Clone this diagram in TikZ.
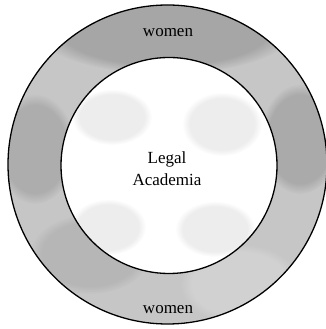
\documentclass[tikz,border=0pt]{standalone}
\usepackage{fontspec}
\setmainfont{Liberation Serif}
\usetikzlibrary{fadings}
\begin{document}
\begin{tikzpicture}[x=1pt,y=1pt,
  ringline/.style={draw=black,line width=1.3pt},
  lbl/.style={font=\fontsize{17}{22}\selectfont,text=black,inner sep=0pt},
  soft/.style={path fading=circle with fuzzy edge 20 percent},
  patch/.style={fill=black,fill opacity=0.07,soft}]
\useasboundingbox (0,0) rectangle (325,329);
% outer ring fill
\fill[gray!45] (167.5,164.5) circle[radius=159.5];
\begin{scope}
  \clip (167.5,164.5) circle[radius=159.5];
  \fill[black,fill opacity=0.16,soft] (165,300) ellipse[x radius=130,y radius=45];
  \fill[black,fill opacity=0.12,soft] (35,180) ellipse[x radius=40,y radius=55];
  \fill[black,fill opacity=0.14,soft] (300,190) ellipse[x radius=40,y radius=55];
  \fill[black,fill opacity=0.08,soft] (90,75) ellipse[x radius=60,y radius=40];
  \fill[white,fill opacity=0.20,soft] (240,45) ellipse[x radius=60,y radius=40];
\end{scope}
% inner disc
\fill[white] (169,163.5) circle[radius=108];
\begin{scope}
  \clip (169,163.5) circle[radius=108];
  \fill[patch] (112,212) ellipse[x radius=40,y radius=28];
  \fill[patch] (222,205) ellipse[x radius=40,y radius=32];
  \fill[patch] (108,102) ellipse[x radius=38,y radius=28];
  \fill[patch] (215,100) ellipse[x radius=40,y radius=28];
\end{scope}
\draw[ringline] (167.5,164.5) circle[radius=159.5];
\draw[ringline] (169,163.5) circle[radius=108];
% labels
\node[lbl,anchor=base] (wtop) at (168,292) {women};
\node[lbl,anchor=base] (wbot) at (168,16) {women};
\node[lbl,align=center] (legal) at (167,160) {Legal\\Academia};
\end{tikzpicture}
\end{document}
